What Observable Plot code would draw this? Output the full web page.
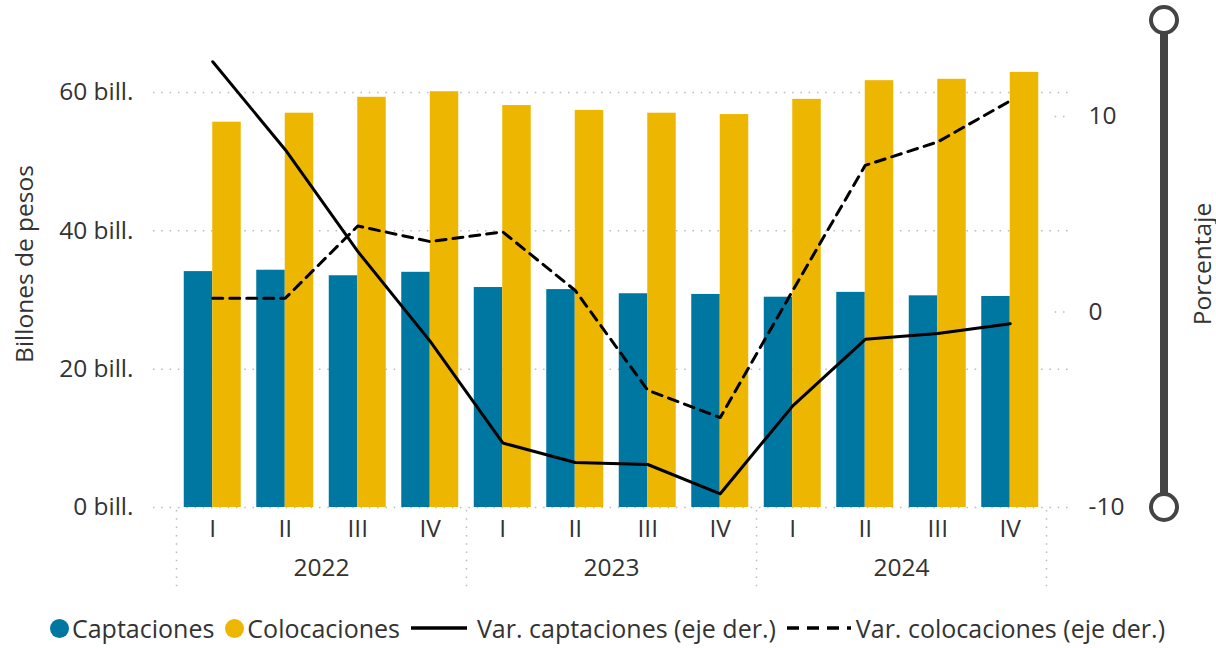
<!DOCTYPE html>
<html>
<head>
<meta charset="utf-8">
<script src="https://cdn.jsdelivr.net/npm/d3@7"></script>
<script src="https://cdn.jsdelivr.net/npm/@observablehq/plot@0.6"></script>
<style>
  html, body { margin: 0; padding: 0; background: #fff; }
  body { width: 1216px; height: 648px; overflow: hidden; font-family: "Open Sans", "Noto Sans", sans-serif; }
  #legend { display: flex; justify-content: center; align-items: center; height: 48px; font-size: 25px; color: #333; margin-left: 10px; }
  #legend .item { display: flex; align-items: center; margin-right: 11px; white-space: nowrap; }
  #legend .dot { width: 19px; height: 19px; border-radius: 50%; display: inline-block; margin-right: 3px; }
  #legend svg.solid { margin-right: 10px; }
  #legend svg.dashed { margin-right: 5px; }
</style>
</head>
<body>
<div id="chart"></div>
<div id="legend"></div>
<script>
const quarters = ["I", "II", "III", "IV", "I", "II", "III", "IV", "I", "II", "III", "IV"];
const years = ["2022", "2023", "2024"];
const captaciones = [34.1, 34.3, 33.5, 34.0, 31.8, 31.5, 30.9, 30.8, 30.4, 31.1, 30.6, 30.5];
const colocaciones = [55.7, 57.0, 59.3, 60.1, 58.1, 57.4, 57.0, 56.8, 59.0, 61.7, 61.9, 62.9];
const varCaptaciones = [12.8, 8.3, 3.1, -1.5, -6.7, -7.7, -7.8, -9.3, -4.8, -1.4, -1.1, -0.6];
const varColocaciones = [0.7, 0.7, 4.4, 3.6, 4.1, 1.1, -4.0, -5.4, 1.1, 7.5, 8.7, 10.8];
const leftTicks = [0, 20, 40, 60];
const rightTicks = [-10, 0, 10];

const series = ["Captaciones", "Colocaciones", "Var. captaciones (eje der.)", "Var. colocaciones (eje der.)"];
const colors = ["#0077A1", "#EDB600"];

// axis domains
const leftDomain = [0, 70.4];
const rightDomain = [-10, 14.91];
const toLeft = p => (p - rightDomain[0]) * (leftDomain[1] - leftDomain[0]) / (rightDomain[1] - rightDomain[0]) + leftDomain[0];
const fromLeft = v => (v - leftDomain[0]) * (rightDomain[1] - rightDomain[0]) / (leftDomain[1] - leftDomain[0]) + rightDomain[0];

const half = 0.393;
const bars = [];
quarters.forEach((q, i) => {
  bars.push({i, x1: i - half, x2: i, v: captaciones[i], s: series[0]});
  bars.push({i, x1: i, x2: i + half, v: colocaciones[i], s: series[1]});
});
const lineCap = varCaptaciones.map((p, i) => ({i, y: toLeft(p)}));
const lineCol = varColocaciones.map((p, i) => ({i, y: toLeft(p)}));
const yearPos = years.map((y, k) => ({x: k * 4 + 1.5, label: y}));
const separators = [-0.5, 3.5, 7.5, 11.5];

const font = "'Open Sans', 'Noto Sans', sans-serif";
const textColor = "#333";
const fs = 24.5;

const plot = Plot.plot({
  width: 1216,
  height: 604,
  marginLeft: 176,
  marginRight: 170,
  marginTop: 20,
  marginBottom: 97,
  style: {fontFamily: font, color: textColor, background: "#fff", overflow: "visible"},
  x: {domain: [-0.5, 11.5], axis: null},
  y: {domain: leftDomain, axis: null},
  marks: [
    Plot.ruleY(leftTicks, {stroke: "#bbb", strokeWidth: 1.5, strokeDasharray: "1.5,6.8", insetLeft: -23, insetRight: -22}),
    Plot.ruleY(rightTicks.slice(1).map(toLeft), {x1: 11.62, x2: 11.82, stroke: "#bbb", strokeWidth: 1.5, strokeDasharray: "1.5,6.8"}),
    Plot.ruleX(separators, {stroke: "#bbb", strokeWidth: 1.5, strokeDasharray: "1.5,6.8", insetTop: 490, insetBottom: -83}),
    Plot.rect(bars, {x1: "x1", x2: "x2", y1: 0, y2: "v", fill: d => d.s === series[0] ? colors[0] : colors[1]}),
    Plot.line(lineCap, {x: "i", y: "y", stroke: "#000", strokeWidth: 3}),
    Plot.line(lineCol, {x: "i", y: "y", stroke: "#000", strokeWidth: 3, strokeDasharray: "10,7"}),
    Plot.axisY(leftTicks, {anchor: "left", tickSize: 0, tickPadding: 43, tickFormat: d => d + " bill.", fontSize: fs, label: null, fill: textColor}),
    Plot.axisY(rightTicks.map(toLeft), {anchor: "right", tickSize: 0, tickPadding: 42, tickFormat: v => String(Math.round(fromLeft(v))), fontSize: fs, label: null, fill: textColor}),
    Plot.text(d3.range(12), {x: d => d, y: 0, text: i => quarters[i], dy: 22, fontSize: fs, fill: textColor, lineAnchor: "middle"}),
    Plot.text(yearPos, {x: "x", y: 0, text: "label", dy: 61, fontSize: fs, fill: textColor, lineAnchor: "middle"}),
    Plot.text(["Billones de pesos"], {frameAnchor: "left", dx: -151, rotate: -90, fontSize: fs, fill: textColor, lineAnchor: "middle", textAnchor: "middle", text: d => d}),
    Plot.text(["Porcentaje"], {frameAnchor: "right", dx: 157, rotate: -90, fontSize: fs, fill: textColor, lineAnchor: "middle", textAnchor: "middle", text: d => d})
  ]
});
document.getElementById("chart").appendChild(plot);

// decorative range slider on the right axis
const svg = d3.select(plot);
const sx = 1164, sTop = 20, sBot = 507;
svg.append("line").attr("x1", sx).attr("x2", sx).attr("y1", sTop).attr("y2", sBot).attr("stroke", "#444").attr("stroke-width", 8);
[sTop, sBot].forEach(cy => svg.append("circle").attr("cx", sx).attr("cy", cy).attr("r", 13).attr("fill", "#fff").attr("stroke", "#444").attr("stroke-width", 4));

// legend
const legend = d3.select("#legend");
series.forEach((s, k) => {
  const item = legend.append("div").attr("class", "item");
  if (k < 2) {
    item.append("span").attr("class", "dot").style("background", colors[k]);
  } else {
    const w = k === 3 ? 64 : 56;
    const sw = item.append("svg").attr("class", k === 3 ? "dashed" : "solid").attr("width", w).attr("height", 6);
    sw.append("line").attr("x1", 0).attr("x2", w).attr("y1", 3).attr("y2", 3)
      .attr("stroke", "#000").attr("stroke-width", 3.5)
      .attr("stroke-dasharray", k === 3 ? "12,8" : null);
  }
  item.append("span").text(s);
});
</script>
</body>
</html>
